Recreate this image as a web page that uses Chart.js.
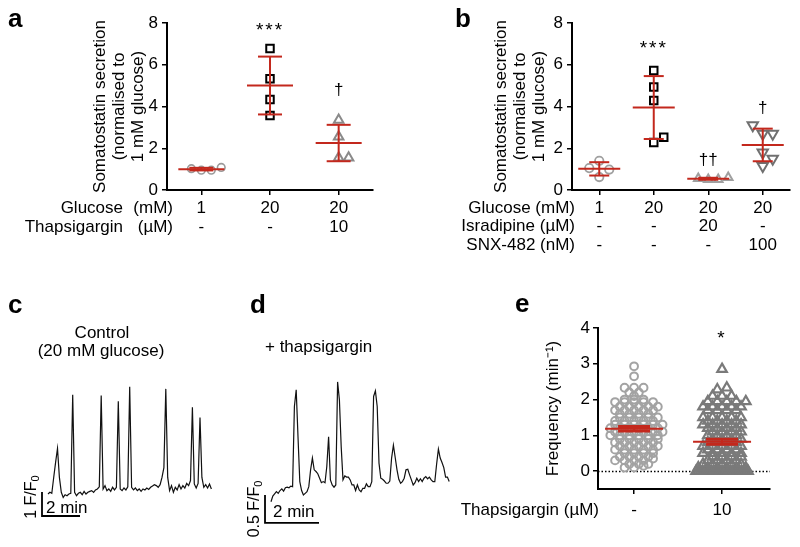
<!DOCTYPE html>
<html>
<head>
<meta charset="utf-8">
<script src="https://cdn.jsdelivr.net/npm/chart.js@4.4.1/dist/chart.umd.min.js"></script>
<style>
  body { margin: 0; background: #fff; }
  #fig { position: relative; width: 800px; height: 547px; overflow: hidden; }
  #fig canvas { position: absolute; }
</style>
</head>
<body>
<div id="fig">
  <canvas id="txt" width="800" height="547" style="left:0;top:0"></canvas>
  <canvas id="chartA" width="400" height="280" style="left:0;top:0"></canvas>
  <canvas id="chartB" width="400" height="280" style="left:400px;top:0"></canvas>
  <canvas id="chartC" width="215" height="165" style="left:15px;top:370px"></canvas>
  <canvas id="chartD" width="215" height="180" style="left:245px;top:360px"></canvas>
  <canvas id="chartE" width="340" height="267" style="left:460px;top:280px"></canvas>
</div>
<script>
const FF = '"Liberation Sans", Arial, sans-serif';
const RED = '#c3281d';

// panel a: somatostatin secretion (normalised to 1 mM glucose)
const a_1mM = [1.02, 0.95, 0.95, 1.08];
const a_20mM = [6.78, 5.33, 4.34, 3.57];
const a_20mM_thaps = [3.35, 2.55, 1.55, 1.55];
const a_glucose = ['1', '20', '20'];
const a_thapsigargin = ['-', '-', '10'];
const a_sig = ['', '***', '†'];
const a_sigLevel = [0, 7.4, 4.55];
const a_yTicks = [0, 2, 4, 6, 8];

// panel b
const b_1mM = [1.4, 1.05, 0.98, 0.62];
const b_20mM = [5.73, 4.93, 4.29, 2.27, 2.53];
const b_isradipine = [0.55, 0.5, 0.5, 0.6];
const b_snx = [2.7, 2.7, 3.1, 1.8, 1.5, 1.15];
const b_glucose = ['1', '20', '20', '20'];
const b_isradipineDose = ['-', '-', '20', '-'];
const b_snxDose = ['-', '-', '-', '100'];
const b_sig = ['', '***', '††', '†'];
const b_sigLevel = [0, 6.5, 1.2, 3.7];
const b_yTicks = [0, 2, 4, 6, 8];

// panel c: control Ca2+ trace, F/F0 sampled every 6 s
const c_dtMin = 0.1;
const c_trace = [
  1.00, 1.07, 1.03, 1.69, 2.32, 2.90, 1.69, 1.07, 0.86, 0.97,
  0.93, 1.00, 1.03, 5.14, 1.07, 0.93, 1.03, 1.07, 0.97, 1.11,
  1.00, 1.07, 1.11, 1.14, 1.07, 1.17, 1.21, 1.30, 5.10, 1.21,
  1.35, 1.14, 1.21, 1.11, 1.28, 1.17, 1.28, 4.86, 1.21, 1.14,
  1.25, 1.17, 1.30, 5.47, 1.28, 1.17, 1.25, 1.14, 1.21, 1.11,
  1.21, 1.17, 1.25, 1.19, 1.28, 1.33, 1.39, 1.35, 1.28, 1.39,
  1.69, 2.10, 5.38, 1.69, 1.14, 1.35, 1.07, 1.28, 1.17, 1.39,
  1.21, 1.35, 1.25, 1.44, 1.35, 1.56, 4.61, 1.42, 1.25, 1.44,
  4.19, 1.69, 1.28, 1.39, 1.25, 1.42, 1.21
];
const c_bar = { x: -0.316, y: 0.083, dx: 2, dy: 1 };

// panel d: + thapsigargin trace, F/F0 sampled every 4 s
const d_dtMin = 4 / 60;
const d_trace = [
  0.79, 0.89, 0.93, 0.97, 0.94, 0.99, 1.02, 0.98, 1.04, 1.05,
  1.04, 1.07, 1.06, 2.49, 2.79, 1.95, 1.15, 0.99, 0.91, 0.94,
  0.97, 1.06, 1.36, 1.57, 1.36, 1.33, 1.29, 1.21, 1.13, 1.15,
  1.13, 1.42, 1.95, 1.18, 1.09, 1.05, 1.09, 2.93, 2.61, 1.77,
  1.18, 1.25, 1.23, 1.23, 1.18, 1.09, 1.09, 0.99, 1.09, 1.00,
  0.97, 1.03, 1.03, 1.11, 1.06, 1.06, 1.15, 2.67, 2.77, 2.49,
  1.48, 1.21, 1.19, 1.16, 1.12, 1.12, 1.16, 1.57, 1.80, 1.58,
  1.36, 1.19, 1.12, 1.15, 1.21, 1.36, 1.37, 1.27, 1.18, 1.09,
  1.13, 1.21, 1.15, 1.20, 1.15, 1.21, 1.24, 1.20, 1.23, 1.18,
  1.15, 1.15, 1.46, 1.73, 1.57, 1.49, 1.40, 1.23, 1.23, 1.15
];
const d_bar = { x: -0.222, y: 0.411, dx: 2, dy: 0.5 };

// panel e: oscillation frequency (min-1)
const e_control = [
  2.93, 2.65, 2.33, 2.33, 2.33, 2.2, 2.2, 2.1, 2.0, 2.0, 2.0,
  1.93, 1.93, 1.93, 1.93, 1.93, 1.8, 1.8, 1.8, 1.8, 1.8,
  1.7, 1.7, 1.7, 1.7, 1.7, 1.6, 1.6, 1.6, 1.6,
  1.5, 1.5, 1.5, 1.5, 1.5, 1.4, 1.4, 1.4, 1.4, 1.4,
  1.3, 1.3, 1.3, 1.3, 1.3, 1.3, 1.2, 1.2, 1.2, 1.2, 1.2, 1.2,
  1.1, 1.1, 1.1, 1.1, 1.1, 1.1, 1.0, 1.0, 1.0, 1.0, 1.0, 1.0,
  0.9, 0.9, 0.9, 0.9, 0.9, 0.8, 0.8, 0.8, 0.8, 0.8,
  0.7, 0.7, 0.7, 0.7, 0.7, 0.6, 0.6, 0.6, 0.6, 0.6,
  0.5, 0.5, 0.5, 0.5, 0.4, 0.4, 0.4, 0.4, 0.35,
  0.3, 0.3, 0.3, 0.3, 0.2, 0.2, 0.2, 0.15, 0.1, 0.1
];
const e_thaps = [
  2.85, 2.33, 2.28, 2.1, 2.1, 2.1,
  1.95, 1.95, 1.95, 1.95, 1.95, 1.8, 1.8, 1.8, 1.8, 1.8,
  1.7, 1.7, 1.7, 1.7, 1.5, 1.5, 1.5, 1.5, 1.5, 1.4, 1.4, 1.4, 1.4,
  1.3, 1.3, 1.3, 1.3, 1.3, 1.2, 1.2, 1.2, 1.2, 1.1, 1.1, 1.1, 1.1,
  1.0, 1.0, 1.0, 1.0, 0.9, 0.9, 0.9, 0.9, 0.8, 0.8, 0.8, 0.8,
  0.7, 0.7, 0.7, 0.7, 0.7, 0.6, 0.6, 0.6, 0.6, 0.5, 0.5, 0.5, 0.5, 0.5,
  0.4, 0.4, 0.4, 0.4, 0.3, 0.3, 0.3, 0.3, 0.2, 0.2, 0.2, 0.2, 0.2,
  0.1, 0.1, 0.1, 0.1, 0.1, 0.1,
  0, 0, 0, 0, 0, 0, 0, 0, 0, 0, 0, 0, 0, 0, 0, 0, 0, 0, 0, 0, 0, 0, 0, 0, 0
];
const e_thapsDose = ['-', '10'];
const e_sig = ['', '*'];
const e_sigLevel = [0, 3.55];
const e_yTicks = [0, 1, 2, 3, 4];

Chart.defaults.font.family = FF;
Chart.defaults.font.size = 17;
Chart.defaults.color = '#000';

// dense column scatter: points with (nearly) equal values share a row
function rowSwarm(values, center, pxPerY, pxPerX, opt) {
  const s = values.slice().sort((p, q) => p - q);
  const out = [];
  let i = 0, prevN = 0, flip = false;
  while (i < s.length) {
    let j = i;
    while (j + 1 < s.length && (s[j + 1] - s[i]) * pxPerY <= opt.bin) j++;
    const n = j - i + 1;
    const gap = n > 1 ? Math.min(opt.step, opt.width / (n - 1)) : 0;
    flip = (n === prevN && n < 8) ? !flip : false;
    const shift = flip ? gap / 2 : 0;
    for (let k = 0; k < n; k++) {
      out.push({ x: center + ((k - (n - 1) / 2) * gap + shift) / pxPerX, y: s[i + k] });
    }
    prevN = n;
    i = j + 1;
  }
  return out;
}

// sparse column scatter: each point goes to the free slot nearest the centre
function beeSwarm(values, center, pxPerY, pxPerX, opt) {
  const s = values.slice().sort((p, q) => p - q);
  const placed = [];
  s.forEach(v => {
    const py = v * pxPerY;
    for (let k = 0; k < 40; k++) {
      const dx = (k % 2 ? 1 : -1) * Math.ceil(k / 2) * opt.step;
      const ok = placed.every(p => Math.hypot(p.dx - dx, p.py - py) >= opt.diam);
      if (ok) { placed.push({ dx: dx, py: py, v: v }); break; }
    }
  });
  return placed.map(p => ({ x: center + p.dx / pxPerX, y: p.v }));
}

function group(values, center, style, geo) {
  return Object.assign({
    data: geo.layout(values, center, geo.py, geo.px, geo.swarm),
    values: values,
    center: center,
    backgroundColor: 'rgba(0,0,0,0)',
    clip: false
  }, style);
}

const errorBars = {
  id: 'errorBars',
  beforeDatasetsDraw(chart, args, o) {
    if (!o.zeroLine) return;
    const { ctx, chartArea, scales: { y } } = chart;
    const yy = Math.round(y.getPixelForValue(0)) + 0.5;
    ctx.save();
    ctx.strokeStyle = '#000';
    ctx.lineWidth = 1.3;
    ctx.setLineDash([1.5, 2]);
    ctx.beginPath();
    ctx.moveTo(chartArea.left, yy);
    ctx.lineTo(chartArea.right, yy);
    ctx.stroke();
    ctx.restore();
  },
  afterDatasetsDraw(chart, args, o) {
    const { ctx, scales: { x, y } } = chart;
    ctx.save();
    ctx.strokeStyle = RED;
    const seg = (x1, y1, x2, y2) => { ctx.beginPath(); ctx.moveTo(x1, y1); ctx.lineTo(x2, y2); ctx.stroke(); };
    chart.data.datasets.forEach(ds => {
      const v = ds.values, n = v.length;
      const mean = v.reduce((s, t) => s + t, 0) / n;
      const sd = Math.sqrt(v.reduce((s, t) => s + (t - mean) * (t - mean), 0) / (n - 1));
      const err = o.sem ? sd / Math.sqrt(n) : sd;
      const cx = x.getPixelForValue(ds.center);
      const ym = y.getPixelForValue(mean);
      const yt = y.getPixelForValue(mean + err);
      const yb = y.getPixelForValue(mean - err);
      ctx.lineWidth = o.lineWidth;
      seg(cx, yt, cx, yb);
      ctx.lineWidth = o.capWidth;
      seg(cx - o.capHalf, yt, cx + o.capHalf, yt);
      seg(cx - o.capHalf, yb, cx + o.capHalf, yb);
      ctx.lineWidth = o.lineWidth;
      seg(cx - o.meanHalf, ym, cx + o.meanHalf, ym);
    });
    ctx.restore();
  }
};

const tableText = {
  id: 'tableText',
  afterDraw(chart, args, o) {
    const { ctx, chartArea, scales: { x, y } } = chart;
    ctx.save();
    ctx.fillStyle = '#000';
    ctx.font = '17px ' + FF;
    ctx.textBaseline = 'middle';
    o.rows.forEach((row, r) => {
      const yy = chartArea.bottom + o.rowTop + r * o.rowGap;
      ctx.textAlign = 'right';
      ctx.fillText(row.label, o.labelRight, yy);
      if (row.unit) ctx.fillText(row.unit, o.unitRight, yy);
      ctx.textAlign = 'center';
      row.cells.forEach((c, i) => ctx.fillText(c, x.getPixelForValue(i + 1), yy));
    });
    ctx.textBaseline = 'alphabetic';
    ctx.textAlign = 'center';
    o.sig.forEach((s, i) => {
      if (!s) return;
      const star = s.indexOf('*') >= 0;
      ctx.font = (star ? '19px ' : '17px ') + FF;
      ctx.letterSpacing = star ? '2px' : '0px';
      ctx.fillText(s, x.getPixelForValue(i + 1), y.getPixelForValue(o.sigLevel[i]));
    });
    ctx.restore();
  }
};

function axisStyle(extra) {
  return Object.assign({
    border: { display: true, color: '#000', width: 2 },
    grid: { display: true, drawOnChartArea: false, drawTicks: true, tickLength: 5, color: '#000', lineWidth: 1.5 }
  }, extra);
}

function dotPlot(id, cfg) {
  return new Chart(document.getElementById(id), {
    type: 'scatter',
    data: { datasets: cfg.datasets },
    options: {
      responsive: false,
      animation: false,
      events: [],
      layout: { padding: cfg.padding },
      plugins: {
        legend: { display: false },
        tooltip: { enabled: false },
        errorBars: cfg.bars,
        tableText: cfg.table
      },
      scales: {
        x: axisStyle({
          type: 'linear', min: cfg.xMin, max: cfg.xMax,
          afterBuildTicks: s => { s.ticks = cfg.cats.map((c, i) => ({ value: i + 1 })); },
          afterFit: s => { s.height = cfg.xHeight; },
          ticks: { display: false }
        }),
        y: axisStyle({
          type: 'linear', min: cfg.yMin, max: cfg.yMax,
          afterBuildTicks: s => { s.ticks = cfg.yTicks.map(v => ({ value: v })); },
          afterFit: s => { s.width = cfg.yWidth; },
          ticks: { padding: cfg.tickPad, font: { size: 17 }, color: '#000' },
          title: { display: true, text: cfg.yTitle, color: '#000', font: { size: 17, lineHeight: 1.12 }, padding: { top: 4, bottom: 1 } }
        })
      }
    },
    plugins: [errorBars, tableText]
  });
}

const somaTitle = ['Somatostatin secretion', '(normalised to', '1 mM glucose)'];

// panel a
const geoA = { layout: beeSwarm, px: 69, py: 20.875, swarm: { step: 10, diam: 9.5 } };
dotPlot('chartA', {
  cats: a_glucose, xMin: 0.5, xMax: 3.5, yMin: 0, yMax: 8, yTicks: a_yTicks,
  padding: { left: 86.5, right: 27, top: 23, bottom: 0 }, xHeight: 90, yWidth: 80.5, tickPad: 4,
  yTitle: somaTitle,
  datasets: [
    group(a_1mM, 1, { pointStyle: 'circle', pointRadius: 3.8, borderColor: '#9a9a9a', borderWidth: 1.6 }, geoA),
    group(a_20mM, 2, { pointStyle: 'rect', pointRadius: 5.3, borderColor: '#000', borderWidth: 2 }, geoA),
    group(a_20mM_thaps, 3, { pointStyle: 'triangle', pointRadius: 5.5, borderColor: '#8a8a8a', borderWidth: 2 }, geoA)
  ],
  bars: { lineWidth: 2, capWidth: 2, capHalf: 12, meanHalf: 23 },
  table: {
    rowTop: 18, rowGap: 19, labelRight: 123, unitRight: 173,
    rows: [
      { label: 'Glucose', unit: '(mM)', cells: a_glucose },
      { label: 'Thapsigargin', unit: '(µM)', cells: a_thapsigargin }
    ],
    sig: a_sig, sigLevel: a_sigLevel
  }
});

// panel b
const geoB = { layout: beeSwarm, px: 54.6, py: 20.875, swarm: { step: 10, diam: 9.5 } };
dotPlot('chartB', {
  cats: b_glucose, xMin: 0.5, xMax: 4.5, yMin: 0, yMax: 8, yTicks: b_yTicks,
  padding: { left: 88.2, right: 10, top: 23, bottom: 0 }, xHeight: 90, yWidth: 83.8, tickPad: 4,
  yTitle: somaTitle,
  datasets: [
    group(b_1mM, 1, { pointStyle: 'circle', pointRadius: 4.2, borderColor: '#a0a0a0', borderWidth: 1.8 }, geoB),
    group(b_20mM, 2, { pointStyle: 'rect', pointRadius: 5.3, borderColor: '#000', borderWidth: 2 }, geoB),
    group(b_isradipine, 3, { pointStyle: 'triangle', pointRadius: 5, borderColor: '#a0a0a0', borderWidth: 2 }, geoB),
    group(b_snx, 4, { pointStyle: 'triangle', rotation: 180, pointRadius: 6, borderColor: '#707070', borderWidth: 2 }, geoB)
  ],
  bars: { lineWidth: 2, capWidth: 2, capHalf: 10, meanHalf: 21 },
  table: {
    rowTop: 18, rowGap: 18.5, labelRight: 175, unitRight: 175,
    rows: [
      { label: 'Glucose (mM)', cells: b_glucose },
      { label: 'Isradipine (µM)', cells: b_isradipineDose },
      { label: 'SNX-482 (nM)', cells: b_snxDose }
    ],
    sig: b_sig, sigLevel: b_sigLevel
  }
});

// panel e
const geoE = { layout: rowSwarm, px: 88, py: 35.75, swarm: { bin: 2.5, step: 9.5, width: 52 } };
dotPlot('chartE', {
  cats: e_thapsDose, xMin: 0.59, xMax: 2.545, yMin: -0.5, yMax: 4, yTicks: e_yTicks,
  padding: { left: 79.5, right: 30, top: 48, bottom: 0 }, xHeight: 58, yWidth: 58.5, tickPad: 3,
  yTitle: 'Frequency (min⁻¹)',
  datasets: [
    group(e_control, 1, { pointStyle: 'circle', pointRadius: 3.9, borderColor: '#a3a3a3', borderWidth: 2 }, geoE),
    group(e_thaps, 2, { pointStyle: 'triangle', pointRadius: 5.5, borderColor: '#7a7a7a', borderWidth: 2.2 }, geoE)
  ],
  bars: { sem: true, zeroLine: true, lineWidth: 2, capWidth: 3, capHalf: 16, meanHalf: 29 },
  table: {
    rowTop: 21, rowGap: 19, labelRight: 139, unitRight: 139,
    rows: [{ label: 'Thapsigargin (µM)', cells: e_thapsDose }],
    sig: e_sig, sigLevel: e_sigLevel
  }
});

// traces c and d
const scaleBarText = {
  id: 'scaleBarText',
  afterDraw(chart, args, o) {
    const { ctx, scales: { x, y } } = chart;
    const bx = x.getPixelForValue(o.bar.x);
    const by = y.getPixelForValue(o.bar.y);
    const ty = y.getPixelForValue(o.bar.y + o.bar.dy);
    ctx.save();
    ctx.fillStyle = '#000';
    ctx.font = '17px ' + FF;
    ctx.textAlign = 'left';
    ctx.textBaseline = 'alphabetic';
    ctx.fillText(o.timeLabel, bx + o.timeDx, by + o.timeDy);
    ctx.translate(bx + o.ampDx, (by + ty) / 2 + o.ampDy);
    ctx.rotate(-Math.PI / 2);
    ctx.font = '16px ' + FF;
    const mw = ctx.measureText(o.ampLabel).width;
    ctx.font = '11px ' + FF;
    const sw = ctx.measureText('0').width;
    const x0 = -(mw + sw) / 2;
    ctx.font = '16px ' + FF;
    ctx.fillText(o.ampLabel, x0, 0);
    ctx.font = '11px ' + FF;
    ctx.fillText('0', x0 + mw, 3);
    ctx.restore();
  }
};

function traceChart(id, trace, dt, bar, range, text) {
  return new Chart(document.getElementById(id), {
    type: 'line',
    data: {
      datasets: [
        { data: trace.map((v, i) => ({ x: i * dt, y: v })), borderColor: '#111', borderWidth: 1.2, pointRadius: 0, tension: 0, clip: false },
        { data: [{ x: bar.x, y: bar.y + bar.dy }, { x: bar.x, y: bar.y }, { x: bar.x + bar.dx, y: bar.y }],
          borderColor: '#000', borderWidth: 1.8, pointRadius: 0, tension: 0, clip: false }
      ]
    },
    options: {
      responsive: false,
      animation: false,
      events: [],
      layout: { padding: 0 },
      plugins: { legend: { display: false }, tooltip: { enabled: false }, scaleBarText: Object.assign({ bar: bar }, text) },
      scales: {
        x: { type: 'linear', display: false, min: range.x0, max: range.x1 },
        y: { type: 'linear', display: false, min: range.y0, max: range.y1 }
      }
    },
    plugins: [scaleBarText]
  });
}

traceChart('chartC', c_trace, c_dtMin, c_bar,
  { x0: -1.737, x1: 9.579, y0: -0.708, y1: 6.167 },
  { timeLabel: '2 min', timeDx: 4, timeDy: -3, ampLabel: '1 F/F', ampDx: -6, ampDy: -7 });

traceChart('chartD', d_trace, d_dtMin, d_bar,
  { x0: -0.963, x1: 7.0, y0: 0.107, y1: 3.321 },
  { timeLabel: '2 min', timeDx: 8, timeDy: -6, ampLabel: '0.5 F/F', ampDx: -6, ampDy: 0 });

// panel letters and trace titles
const t = document.getElementById('txt').getContext('2d');
t.fillStyle = '#000';
t.font = 'bold 26px ' + FF;
[['a', 8, 27], ['b', 455, 27], ['c', 8, 313], ['d', 250, 313], ['e', 515, 312]].forEach(l => t.fillText(l[0], l[1], l[2]));
t.font = '17px ' + FF;
t.textAlign = 'center';
t.fillText('Control', 102, 338);
t.fillText('(20 mM glucose)', 101, 356);
t.textAlign = 'left';
t.fillText('+ thapsigargin', 265, 352);
</script>
</body>
</html>
